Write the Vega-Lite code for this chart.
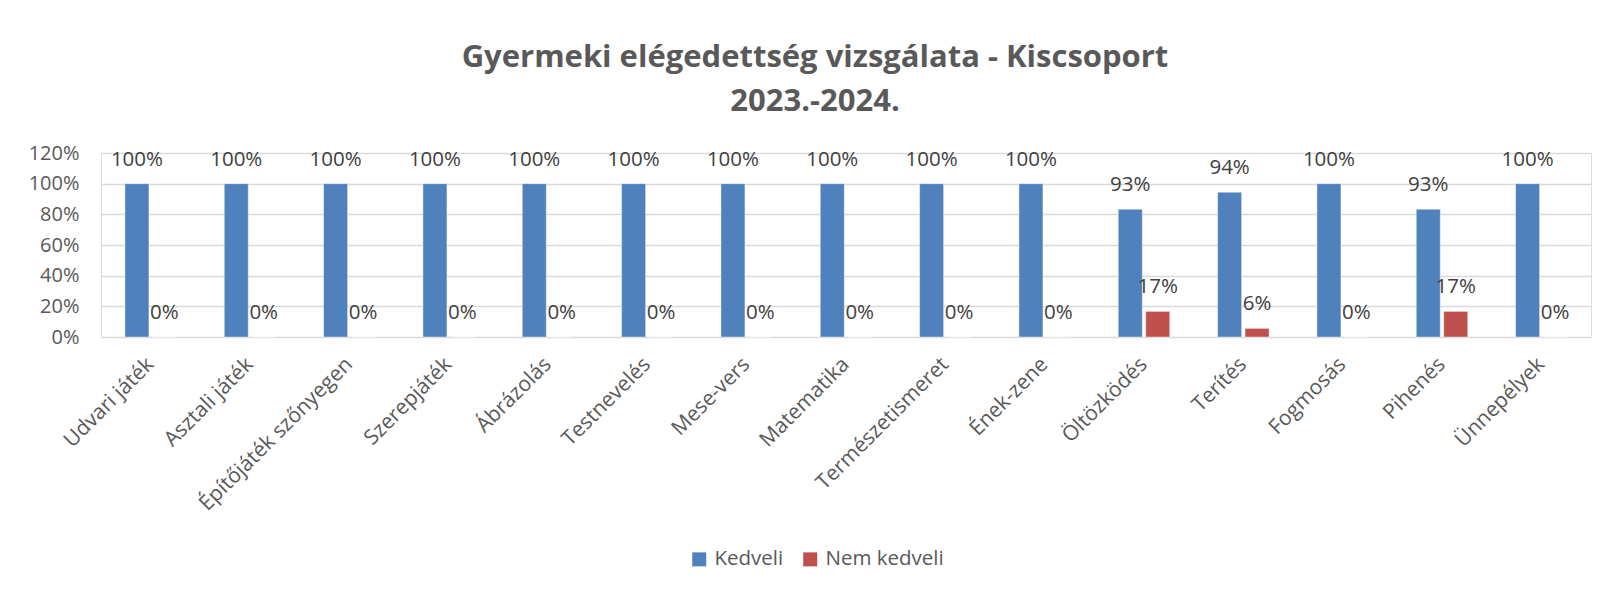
{
  "$schema": "https://vega.github.io/schema/vega-lite/v6.json",
  "autosize": {"type": "none"},
  "width": 1490,
  "height": 184,
  "padding": {"left": 101, "top": 153, "right": 16, "bottom": 255},
  "background": "white",
  "title": {
    "text": ["Gyermeki elégedettség vizsgálata - Kiscsoport", "2023.-2024."],
    "anchor": "middle",
    "frame": "group",
    "dx": -31,
    "offset": 25,
    "font": "Open Sans",
    "fontSize": 31,
    "fontWeight": "bold",
    "color": "#595959",
    "lineHeight": 44
  },
  "data": {
    "values": [
      {"cat": "Udvari játék", "series": "Kedveli", "value": 1.0, "label": "100%"},
      {"cat": "Udvari játék", "series": "Nem kedveli", "value": 0, "label": "0%"},
      {"cat": "Asztali játék", "series": "Kedveli", "value": 1.0, "label": "100%"},
      {"cat": "Asztali játék", "series": "Nem kedveli", "value": 0, "label": "0%"},
      {"cat": "Építőjáték szőnyegen", "series": "Kedveli", "value": 1.0, "label": "100%"},
      {"cat": "Építőjáték szőnyegen", "series": "Nem kedveli", "value": 0, "label": "0%"},
      {"cat": "Szerepjáték", "series": "Kedveli", "value": 1.0, "label": "100%"},
      {"cat": "Szerepjáték", "series": "Nem kedveli", "value": 0, "label": "0%"},
      {"cat": "Ábrázolás", "series": "Kedveli", "value": 1.0, "label": "100%"},
      {"cat": "Ábrázolás", "series": "Nem kedveli", "value": 0, "label": "0%"},
      {"cat": "Testnevelés", "series": "Kedveli", "value": 1.0, "label": "100%"},
      {"cat": "Testnevelés", "series": "Nem kedveli", "value": 0, "label": "0%"},
      {"cat": "Mese-vers", "series": "Kedveli", "value": 1.0, "label": "100%"},
      {"cat": "Mese-vers", "series": "Nem kedveli", "value": 0, "label": "0%"},
      {"cat": "Matematika", "series": "Kedveli", "value": 1.0, "label": "100%"},
      {"cat": "Matematika", "series": "Nem kedveli", "value": 0, "label": "0%"},
      {"cat": "Természetismeret", "series": "Kedveli", "value": 1.0, "label": "100%"},
      {"cat": "Természetismeret", "series": "Nem kedveli", "value": 0, "label": "0%"},
      {"cat": "Ének-zene", "series": "Kedveli", "value": 1.0, "label": "100%"},
      {"cat": "Ének-zene", "series": "Nem kedveli", "value": 0, "label": "0%"},
      {"cat": "Öltözködés", "series": "Kedveli", "value": 0.833, "label": "93%"},
      {"cat": "Öltözködés", "series": "Nem kedveli", "value": 0.167, "label": "17%"},
      {"cat": "Terítés", "series": "Kedveli", "value": 0.944, "label": "94%"},
      {"cat": "Terítés", "series": "Nem kedveli", "value": 0.056, "label": "6%"},
      {"cat": "Fogmosás", "series": "Kedveli", "value": 1.0, "label": "100%"},
      {"cat": "Fogmosás", "series": "Nem kedveli", "value": 0, "label": "0%"},
      {"cat": "Pihenés", "series": "Kedveli", "value": 0.833, "label": "93%"},
      {"cat": "Pihenés", "series": "Nem kedveli", "value": 0.167, "label": "17%"},
      {"cat": "Ünnepélyek", "series": "Kedveli", "value": 1.0, "label": "100%"},
      {"cat": "Ünnepélyek", "series": "Nem kedveli", "value": 0, "label": "0%"}
    ]
  },
  "encoding": {
    "x": {
      "field": "cat",
      "type": "nominal",
      "sort": null,
      "scale": {"paddingInner": 0.482, "paddingOuter": 0.241},
      "axis": {
        "title": null,
        "labelAngle": -45,
        "labelAlign": "right",
        "labelBaseline": "middle",
        "labelFont": "Open Sans",
        "labelFontSize": 21,
        "labelColor": "#595959",
        "labelPadding": 24,
        "labelLimit": 0,
        "ticks": false,
        "domain": false,
        "grid": false,
        "labelOverlap": false
      }
    },
    "xOffset": {
      "field": "series",
      "type": "nominal",
      "scale": {"paddingInner": 0.126, "paddingOuter": 0}
    },
    "y": {
      "field": "value",
      "type": "quantitative",
      "scale": {"domain": [0, 1.2]},
      "axis": {
        "title": null,
        "format": ".0%",
        "values": [0, 0.2, 0.4, 0.6, 0.8, 1.0, 1.2],
        "labelFont": "Open Sans",
        "labelFontSize": 20,
        "labelColor": "#595959",
        "labelPadding": 22,
        "ticks": false,
        "domain": false,
        "grid": true,
        "gridColor": "#D9D9D9",
        "gridWidth": 1.5
      }
    }
  },
  "layer": [
    {
      "mark": {"type": "bar", "stroke": "#ffffff", "strokeOpacity": 0.4, "strokeWidth": 1},
      "encoding": {
        "color": {
          "field": "series",
          "type": "nominal",
          "scale": {"domain": ["Kedveli", "Nem kedveli"], "range": ["#4F81BD", "#C0504D"]},
          "legend": {
            "title": null,
            "orient": "none",
            "direction": "horizontal",
            "legendX": 588,
            "legendY": 396,
            "symbolType": "square",
            "symbolSize": 196,
            "symbolStrokeWidth": 0,
            "labelFont": "Open Sans",
            "labelFontSize": 20.5,
            "labelColor": "#595959",
            "columnPadding": 16,
            "labelOffset": 5
          }
        }
      }
    },
    {
      "mark": {"type": "text", "baseline": "alphabetic", "dy": -18, "font": "Open Sans", "fontSize": 20.5, "color": "#404040"},
      "encoding": {
        "text": {"field": "label"}
      }
    }
  ]
}
